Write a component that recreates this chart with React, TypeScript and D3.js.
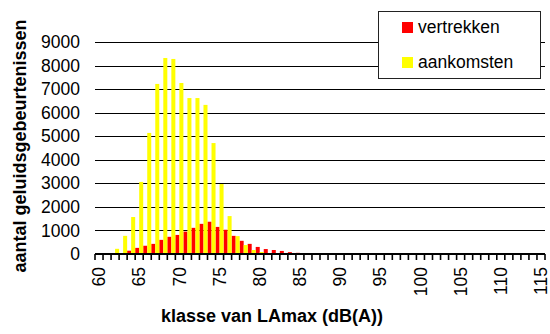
import React from "react";
import * as d3 from "d3";

// LAmax classes (dB(A)), one per integer from 60 to 115
const classes: number[] = d3.range(60, 116);

// Number of noise events per class
const vertrekken: number[] = [
  0, 0, 10, 30, 140, 260, 350, 430, 600, 730,
  810, 950, 1110, 1280, 1370, 1150, 1030, 770, 560, 430,
  300, 210, 170, 130, 80, 50, 25, 10, 0, 0,
  0, 0, 0, 0, 0, 0, 0, 0, 0, 0,
  0, 0, 0, 0, 0, 0, 0, 0, 0, 0,
  0, 0, 0, 0, 0, 0,
];
const aankomsten: number[] = [
  0, 0, 220, 770, 1570, 3060, 5140, 7220, 8320, 8280,
  7260, 6620, 6620, 6330, 4710, 2970, 1610, 760, 380, 170,
  85, 30, 0, 0, 0, 0, 0, 0, 0, 0,
  0, 0, 0, 0, 0, 0, 0, 0, 0, 0,
  0, 0, 0, 0, 0, 0, 0, 0, 0, 0,
  0, 0, 0, 0, 0, 0,
];

const seriesNames = ["vertrekken", "aankomsten"];
const seriesColors = ["#ff0000", "#ffff00"];
const yTicks: number[] = d3.range(0, 10000, 1000);
const xLabelClasses: number[] = d3.range(60, 116, 5);

const W = 550;
const H = 334;
const plot = { left: 95, right: 545, top: 42, bottom: 254 };
const FONT = "'Liberation Sans', Arial, sans-serif";

export default function App() {
  const x = d3
    .scaleBand<number>()
    .domain(classes)
    .range([plot.left, plot.right])
    .padding(0);
  const inner = d3
    .scaleBand<string>()
    .domain(seriesNames)
    .range([0, x.bandwidth()])
    .padding(0);
  const y = d3.scaleLinear().domain([0, 9000]).range([plot.bottom, plot.top]);

  const series = [vertrekken, aankomsten];

  return (
    <svg
      width={W}
      height={H}
      style={{ position: "absolute", left: 0, top: 0, background: "#fff" }}
      fontFamily={FONT}
    >
      {/* gridlines */}
      {yTicks.slice(1).map((t) => (
        <line
          key={t}
          x1={plot.left}
          x2={plot.right}
          y1={Math.round(y(t)) + 0.5}
          y2={Math.round(y(t)) + 0.5}
          stroke="#000"
          strokeWidth={1}
        />
      ))}

      {/* bars */}
      {series.map((vals, si) =>
        classes.map((c, i) =>
          vals[i] > 0 ? (
            <rect
              key={`${si}-${c}`}
              x={(x(c) as number) + (inner(seriesNames[si]) as number)}
              y={y(vals[i])}
              width={inner.bandwidth()}
              height={plot.bottom - y(vals[i])}
              fill={seriesColors[si]}
            />
          ) : null
        )
      )}

      {/* x axis */}
      <line
        x1={plot.left}
        x2={plot.right}
        y1={plot.bottom}
        y2={plot.bottom}
        stroke="#000"
        strokeWidth={2}
      />
      {classes.concat([116]).map((c, i) => {
        const px = plot.left + i * x.step();
        return (
          <line
            key={`tick-${c}`}
            x1={px}
            x2={px}
            y1={plot.bottom}
            y2={plot.bottom + 6}
            stroke="#000"
            strokeWidth={1.6}
          />
        );
      })}

      {/* x tick labels */}
      {xLabelClasses.map((c) => {
        const cx = (x(c) as number) + x.bandwidth() / 2;
        return (
          <text
            key={`xl-${c}`}
            transform={`translate(${cx},267) rotate(-90)`}
            textAnchor="end"
            dy="0.35em"
            fontSize={17.5}
            fill="#000"
          >
            {c}
          </text>
        );
      })}

      {/* y tick labels */}
      {yTicks.map((t) => (
        <text
          key={`yl-${t}`}
          x={80}
          y={y(t)}
          dy="0.35em"
          textAnchor="end"
          fontSize={17.5}
          fill="#000"
        >
          {t}
        </text>
      ))}

      {/* axis titles */}
      <text
        x={272}
        y={322}
        textAnchor="middle"
        fontSize={18}
        fontWeight="bold"
        fill="#000"
      >
        klasse van LAmax (dB(A))
      </text>
      <text
        transform="translate(26,146) rotate(-90)"
        textAnchor="middle"
        fontSize={18}
        fontWeight="bold"
        fill="#000"
      >
        aantal geluidsgebeurtenissen
      </text>

      {/* legend */}
      <rect
        x={378.5}
        y={11.5}
        width={162}
        height={67}
        fill="#fff"
        stroke="#222"
        strokeWidth={1}
      />
      {seriesNames.map((name, i) => (
        <g key={name} transform={`translate(402,${22 + i * 35})`}>
          <rect width={11} height={11} fill={seriesColors[i]} />
          <text x={16} y={11} fontSize={17.5} fill="#000">
            {name}
          </text>
        </g>
      ))}
    </svg>
  );
}
